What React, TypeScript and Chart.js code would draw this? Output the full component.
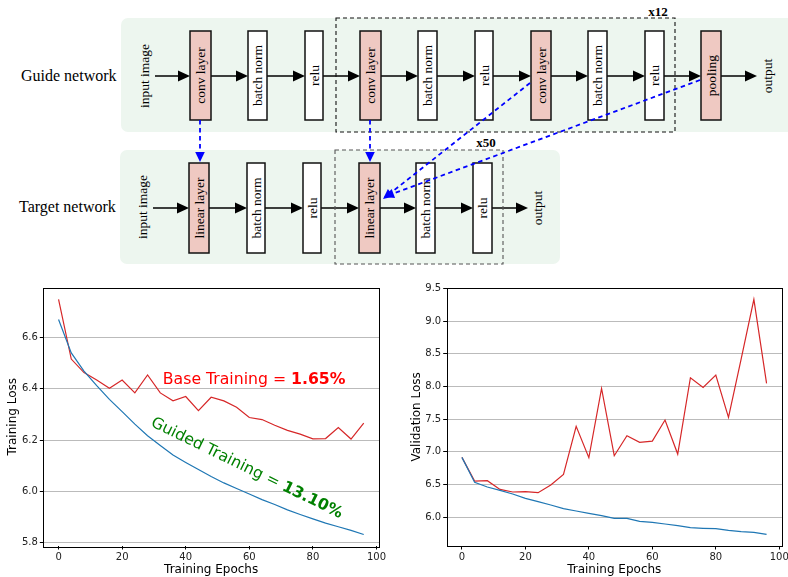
import React, { useEffect, useRef } from 'react';
import { Chart, registerables } from 'chart.js';

Chart.register(...registerables);

// ---------- data ----------
const epochs = [0, 4, 8, 12, 16, 20, 24, 28, 32, 36, 40, 44, 48, 52, 56, 60, 64, 68, 72, 76, 80, 84, 88, 92, 96];
const baseTrainLoss = [6.749, 6.516, 6.463, 6.434, 6.402, 6.434, 6.384, 6.454, 6.384, 6.353, 6.370, 6.315, 6.367, 6.353, 6.328, 6.288, 6.280, 6.258, 6.238, 6.223, 6.205, 6.206, 6.249, 6.204, 6.266];
const guidedTrainLoss = [6.670, 6.540, 6.469, 6.412, 6.359, 6.311, 6.262, 6.217, 6.179, 6.142, 6.113, 6.085, 6.058, 6.033, 6.011, 5.990, 5.968, 5.949, 5.928, 5.910, 5.893, 5.876, 5.862, 5.848, 5.832];
const baseValLoss = [6.913, 6.551, 6.556, 6.423, 6.383, 6.388, 6.372, 6.490, 6.653, 7.388, 6.908, 7.969, 6.939, 7.245, 7.143, 7.163, 7.485, 6.964, 8.133, 7.985, 8.173, 7.526, 8.423, 9.332, 8.046];
const guidedValLoss = [6.913, 6.531, 6.459, 6.408, 6.352, 6.286, 6.235, 6.184, 6.128, 6.092, 6.056, 6.020, 5.980, 5.980, 5.934, 5.918, 5.893, 5.867, 5.837, 5.827, 5.821, 5.796, 5.776, 5.765, 5.735];
const xTicks = [0, 20, 40, 60, 80, 100];
const trainYTicks = [5.8, 6.0, 6.2, 6.4, 6.6];
const valYTicks = [6.0, 6.5, 7.0, 7.5, 8.0, 8.5, 9.0, 9.5];

const SANS = "'DejaVu Sans', sans-serif";
const SERIF = "'Liberation Serif', 'DejaVu Serif', serif";

type Ann = { x: number; y: number; normal: string; bold: string; color: string; rot: number; align: 'left' | 'center' };

function makeConfig(o: {
  guided: number[]; base: number[]; yMin: number; yMax: number; yTicks: number[];
  yTitle: string; yWidth: number; padRight: number; padTop: number; yTitlePad: number; anns: Ann[];
}): any {
  const framePlugin = {
    id: 'frame',
    afterDatasetsDraw(chart: any) {
      const { ctx, chartArea: a } = chart;
      ctx.save();
      ctx.strokeStyle = '#000';
      ctx.lineWidth = 1;
      ctx.strokeRect(Math.round(a.left) + 0.5, Math.round(a.top) + 0.5, Math.round(a.right - a.left), Math.round(a.bottom - a.top));
      const fs = 15.7;
      for (const an of o.anns) {
        const px = chart.scales.x.getPixelForValue(an.x);
        const py = chart.scales.y.getPixelForValue(an.y);
        ctx.save();
        ctx.translate(px, py);
        ctx.rotate((an.rot * Math.PI) / 180);
        ctx.textBaseline = 'middle';
        ctx.textAlign = 'left';
        ctx.fillStyle = an.color;
        ctx.font = `${fs}px ${SANS}`;
        const w1 = ctx.measureText(an.normal).width;
        ctx.font = `bold ${fs}px ${SANS}`;
        const w2 = ctx.measureText(an.bold).width;
        const start = an.align === 'center' ? -(w1 + w2) / 2 : 0;
        ctx.font = `${fs}px ${SANS}`;
        ctx.fillText(an.normal, start, 0);
        ctx.font = `bold ${fs}px ${SANS}`;
        ctx.fillText(an.bold, start + w1, 0);
        ctx.restore();
      }
      ctx.restore();
    },
  };
  return {
    type: 'line',
    data: {
      datasets: [
        { data: epochs.map((x, i) => ({ x, y: o.guided[i] })), borderColor: '#1f77b4', borderWidth: 1.2, pointRadius: 0, tension: 0, fill: false },
        { data: epochs.map((x, i) => ({ x, y: o.base[i] })), borderColor: '#d62728', borderWidth: 1.2, pointRadius: 0, tension: 0, fill: false },
      ],
    },
    options: {
      responsive: false,
      animation: false,
      devicePixelRatio: 1,
      layout: { padding: { left: 0, right: o.padRight, top: o.padTop, bottom: 0 } },
      plugins: { legend: { display: false }, tooltip: { enabled: false } },
      scales: {
        x: {
          type: 'linear', min: -4.8, max: 100.8,
          afterBuildTicks: (s: any) => { s.ticks = xTicks.map((v) => ({ value: v })); },
          afterFit: (s: any) => { s.height = 31; s.paddingLeft = 0; s.paddingRight = 0; },
          grid: { drawOnChartArea: false, drawTicks: true, tickLength: 3.5, tickColor: '#000', color: '#000' },
          border: { display: false },
          ticks: { font: { family: SANS, size: 10 }, color: '#222', padding: 1.5, maxRotation: 0, autoSkip: false, callback: (v: any) => String(v) },
          title: { display: true, text: 'Training Epochs', font: { family: SANS, size: 12 }, color: '#000', padding: { top: 0, bottom: 0 } },
        },
        y: {
          type: 'linear', min: o.yMin, max: o.yMax,
          afterBuildTicks: (s: any) => { s.ticks = o.yTicks.map((v) => ({ value: v })); },
          afterFit: (s: any) => { s.width = o.yWidth; s.paddingTop = 0; s.paddingBottom = 0; },
          grid: { color: '#bbbbbb', lineWidth: 1, drawTicks: true, tickLength: 3.5, tickColor: '#000' },
          border: { display: false },
          ticks: { font: { family: SANS, size: 10 }, color: '#222', padding: 2, callback: (v: any) => Number(v).toFixed(1) },
          title: { display: true, text: o.yTitle, font: { family: SANS, size: 12 }, color: '#000', padding: { top: o.yTitlePad, bottom: 0 } },
        },
      },
    },
    plugins: [framePlugin],
  };
}

// ---------- diagram ----------
type Box = { x: number; w: number; label: string; pink?: boolean };
const guideBoxes: Box[] = [
  { x: 190, w: 21, label: 'conv layer', pink: true },
  { x: 248, w: 19, label: 'batch norm' },
  { x: 305, w: 18, label: 'relu' },
  { x: 360, w: 21, label: 'conv layer', pink: true },
  { x: 418, w: 19, label: 'batch norm' },
  { x: 475, w: 18, label: 'relu' },
  { x: 531, w: 20, label: 'conv layer', pink: true },
  { x: 588, w: 19, label: 'batch norm' },
  { x: 645, w: 19, label: 'relu' },
  { x: 701, w: 20, label: 'pooling', pink: true },
];
const targetBoxes: Box[] = [
  { x: 189, w: 20, label: 'linear layer', pink: true },
  { x: 247, w: 18, label: 'batch norm' },
  { x: 303, w: 18, label: 'relu' },
  { x: 359, w: 21, label: 'linear layer', pink: true },
  { x: 416, w: 19, label: 'batch norm' },
  { x: 473, w: 19, label: 'relu' },
];
const guideArrows = [[155, 190], [211, 248], [267, 305], [323, 360], [381, 418], [437, 475], [493, 531], [551, 588], [607, 645], [664, 701], [721, 757]];
const targetArrows = [[153, 189], [209, 247], [265, 303], [321, 359], [380, 416], [435, 473], [492, 528]];
const blueLinks = [[200, 120, 200, 162], [370, 120, 370, 162], [530, 83, 383, 199], [700, 80, 384, 197]];

function RotText({ x, y, text, size = 13.5 }: { x: number; y: number; text: string; size?: number }) {
  return (
    <text x={x} y={y} transform={`rotate(-90 ${x} ${y})`} textAnchor="middle" dominantBaseline="central"
      fontFamily={SERIF} fontSize={size} fill="#000">{text}</text>
  );
}

function HArrow({ x1, x2, y }: { x1: number; x2: number; y: number }) {
  return (
    <g>
      <line x1={x1} y1={y} x2={x2 - 10} y2={y} stroke="#000" strokeWidth={1.5} />
      <polygon points={`${x2},${y} ${x2 - 12},${y - 5.5} ${x2 - 12},${y + 5.5}`} fill="#000" />
    </g>
  );
}

function BlueArrow({ x1, y1, x2, y2 }: { x1: number; y1: number; x2: number; y2: number }) {
  const dx = x2 - x1, dy = y2 - y1;
  const L = Math.hypot(dx, dy);
  const ux = dx / L, uy = dy / L;
  const hl = 10, hw = 4.8;
  const bx = x2 - ux * hl, by = y2 - uy * hl;
  const px = -uy, py = ux;
  return (
    <g>
      <line x1={x1} y1={y1} x2={bx} y2={by} stroke="#0000ff" strokeWidth={1.8} strokeDasharray="4.5 3.5" />
      <polygon points={`${x2},${y2} ${bx + px * hw},${by + py * hw} ${bx - px * hw},${by - py * hw}`} fill="#0000ff" />
    </g>
  );
}

function Row({ boxes, y, h, arrows, ay }: { boxes: Box[]; y: number; h: number; arrows: number[][]; ay: number }) {
  return (
    <g>
      {arrows.map((a, i) => <HArrow key={'a' + i} x1={a[0]} x2={a[1]} y={ay} />)}
      {boxes.map((b, i) => (
        <g key={'b' + i}>
          <rect x={b.x} y={y} width={b.w} height={h} fill={b.pink ? '#efc9c2' : '#ffffff'} stroke="#111" strokeWidth={1.5} />
          <RotText x={b.x + b.w / 2} y={y + h / 2} text={b.label} />
        </g>
      ))}
    </g>
  );
}

function Diagram() {
  return (
    <svg width={788} height={272} style={{ position: 'absolute', left: 0, top: 0 }}>
      <rect x={121} y={18} width={680} height={114} rx={7} fill="#edf6ef" />
      <rect x={120} y={150} width={440} height={114} rx={7} fill="#edf6ef" />
      <text x={21} y={81} fontFamily={SERIF} fontSize={16} fill="#000">Guide network</text>
      <text x={19} y={212} fontFamily={SERIF} fontSize={16} fill="#000">Target network</text>
      <RotText x={144} y={76} text="input image" />
      <RotText x={142} y={207} text="input image" />
      <RotText x={767} y={76} text="output" />
      <RotText x={537} y={208} text="output" />
      <Row boxes={guideBoxes} y={31} h={89} arrows={guideArrows} ay={76} />
      <Row boxes={targetBoxes} y={163} h={90} arrows={targetArrows} ay={208} />
      <rect x={336} y={18} width={339} height={114} fill="none" stroke="#111" strokeWidth={1.1} strokeDasharray="4 3" />
      <rect x={335} y={150} width={168} height={114} fill="none" stroke="#555" strokeWidth={1.1} strokeDasharray="4 3" />
      <text x={658} y={16} textAnchor="middle" fontFamily={SERIF} fontWeight="bold" fontSize={13} fill="#000">x12</text>
      <text x={486} y={147} textAnchor="middle" fontFamily={SERIF} fontWeight="bold" fontSize={13} fill="#000">x50</text>
      {blueLinks.map((l, i) => <BlueArrow key={i} x1={l[0]} y1={l[1]} x2={l[2]} y2={l[3]} />)}
    </svg>
  );
}

export default function App() {
  const leftRef = useRef<HTMLCanvasElement>(null);
  const rightRef = useRef<HTMLCanvasElement>(null);
  useEffect(() => {
    const c1 = new Chart(leftRef.current as HTMLCanvasElement, makeConfig({
      guided: guidedTrainLoss, base: baseTrainLoss, yMin: 5.787, yMax: 6.795, yTicks: trainYTicks,
      yTitle: 'Training Loss', yWidth: 43.3, padRight: 394 - 379, padTop: 7.5, yTitlePad: 5.8,
      anns: [
        { x: 32.8, y: 6.434, normal: 'Base Training = ', bold: '1.65%', color: '#ff0000', rot: 0, align: 'left' },
        { x: 59.2, y: 6.090, normal: 'Guided Training = ', bold: '13.10%', color: '#008000', rot: 26, align: 'center' },
      ],
    }));
    const c2 = new Chart(rightRef.current as HTMLCanvasElement, makeConfig({
      guided: guidedValLoss, base: baseValLoss, yMin: 5.556, yMax: 9.512, yTicks: valYTicks,
      yTitle: 'Validation Loss', yWidth: 52.7, padRight: 394 - 387.8, padTop: 7.7, yTitlePad: 15.5,
      anns: [],
    }));
    return () => { c1.destroy(); c2.destroy(); };
  }, []);
  return (
    <div style={{ position: 'absolute', left: 0, top: 0, width: 788, height: 577, background: '#fff', overflow: 'hidden' }}>
      <Diagram />
      <canvas ref={leftRef} width={394} height={297} style={{ position: 'absolute', left: 0, top: 280, width: 394, height: 297 }} />
      <canvas ref={rightRef} width={394} height={297} style={{ position: 'absolute', left: 394, top: 280, width: 394, height: 297 }} />
    </div>
  );
}
